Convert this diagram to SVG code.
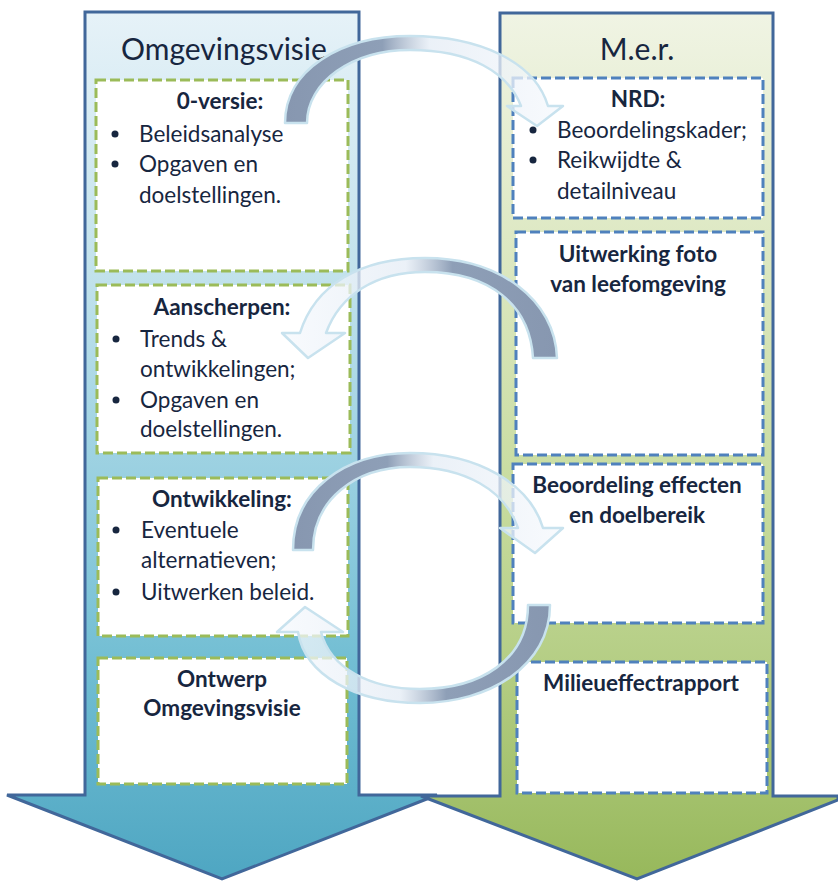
<svg xmlns="http://www.w3.org/2000/svg" width="838" height="881" viewBox="0 0 838 881">
<defs>
<linearGradient id="gBlue" x1="0" y1="12" x2="0" y2="880" gradientUnits="userSpaceOnUse">
<stop offset="0" stop-color="#e6f2f8"/>
<stop offset="0.3" stop-color="#c2e2ec"/>
<stop offset="0.55" stop-color="#97cfe0"/>
<stop offset="0.75" stop-color="#72bed3"/>
<stop offset="1" stop-color="#4ea6c2"/>
</linearGradient>
<linearGradient id="gGreen" x1="0" y1="12" x2="0" y2="880" gradientUnits="userSpaceOnUse">
<stop offset="0" stop-color="#f0f4e4"/>
<stop offset="0.3" stop-color="#dbe7bf"/>
<stop offset="0.55" stop-color="#c8dca0"/>
<stop offset="0.75" stop-color="#b5ce85"/>
<stop offset="1" stop-color="#97b85b"/>
</linearGradient>
<linearGradient id="gArrR" x1="0" y1="0" x2="1" y2="0">
<stop offset="0" stop-color="#8797b0"/>
<stop offset="0.35" stop-color="#8e9fb7"/>
<stop offset="0.52" stop-color="#e4ecf5" stop-opacity="0.75"/>
<stop offset="1" stop-color="#f6f9fd" stop-opacity="0.75"/>
</linearGradient>
<linearGradient id="gArrL" x1="1" y1="0" x2="0" y2="0">
<stop offset="0" stop-color="#8797b0"/>
<stop offset="0.38" stop-color="#8e9fb7"/>
<stop offset="0.55" stop-color="#e4ecf5" stop-opacity="0.75"/>
<stop offset="1" stop-color="#f6f9fd" stop-opacity="0.75"/>
</linearGradient>
<style>
.big{stroke:#41679a;stroke-width:3;stroke-linejoin:miter}
.bg{fill:#ffffff;stroke:#9bbb59;stroke-width:3;stroke-dasharray:10 4}
.bb{fill:#ffffff;stroke:#4f81bd;stroke-width:3;stroke-dasharray:10 4}
.title{font-family:Lato,"Liberation Sans",sans-serif;font-size:30px;fill:#17263f;text-anchor:middle}
.h{font-family:Lato,"Liberation Sans",sans-serif;font-size:22.5px;font-weight:bold;fill:#17263f;text-anchor:middle}
.t{font-family:Lato,"Liberation Sans",sans-serif;font-size:22.5px;fill:#17263f}
.dot{fill:#17263f}
.ca{stroke:#c8e2ee;stroke-width:2.5;stroke-linejoin:round}
</style>
</defs>

<g id="arrow-omgevingsvisie">
<path class="big" fill="url(#gBlue)" d="M85,12 L359,12 L359,795 L437,795 L222,879 L7,795 L85,795 Z"/>
<text class="title" x="224" y="60">Omgevingsvisie</text>
</g>
<g id="arrow-mer">
<path class="big" fill="url(#gGreen)" d="M500,13 L773,13 L773,796 L838,796 L838,800 L637,879 L421,796 L500,796 Z"/>
<text class="title" x="637" y="60">M.e.r.</text>
</g>

<g id="box-0-versie">
<rect class="bg" x="96" y="80" width="252" height="191"/>
<text class="h" x="220" y="109">0-versie:</text>
<circle class="dot" cx="115" cy="134" r="3.5"/>
<text class="t" x="139" y="142">Beleidsanalyse</text>
<circle class="dot" cx="115" cy="164" r="3.5"/>
<text class="t" x="139" y="172">Opgaven en</text>
<text class="t" x="139" y="203">doelstellingen.</text>
</g>
<g id="box-aanscherpen">
<rect class="bg" x="97" y="285" width="253" height="168"/>
<text class="h" x="222" y="315">Aanscherpen:</text>
<circle class="dot" cx="116" cy="339" r="3.5"/>
<text class="t" x="140" y="347">Trends &amp;</text>
<text class="t" x="140" y="377">ontwikkelingen;</text>
<circle class="dot" cx="116" cy="400" r="3.5"/>
<text class="t" x="140" y="408">Opgaven en</text>
<text class="t" x="140" y="437">doelstellingen.</text>
</g>
<g id="box-ontwikkeling">
<rect class="bg" x="98" y="478" width="250" height="158"/>
<text class="h" x="222" y="507">Ontwikkeling:</text>
<circle class="dot" cx="116" cy="530" r="3.5"/>
<text class="t" x="141" y="538">Eventuele</text>
<text class="t" x="141" y="568">alternatieven;</text>
<circle class="dot" cx="116" cy="592" r="3.5"/>
<text class="t" x="141" y="600">Uitwerken beleid.</text>
</g>
<g id="box-ontwerp">
<rect class="bg" x="98" y="658" width="249" height="126"/>
<text class="h" x="222" y="687">Ontwerp</text>
<text class="h" x="222" y="716">Omgevingsvisie</text>
</g>

<g id="box-nrd">
<rect class="bb" x="513" y="78" width="250" height="140"/>
<text class="h" x="638" y="107">NRD:</text>
<circle class="dot" cx="533" cy="130" r="3.5"/>
<text class="t" x="557" y="138">Beoordelingskader;</text>
<circle class="dot" cx="533" cy="160" r="3.5"/>
<text class="t" x="557" y="168">Reikwijdte &amp;</text>
<text class="t" x="557" y="199">detailniveau</text>
</g>
<g id="box-foto">
<rect class="bb" x="516" y="232" width="247" height="223"/>
<text class="h" x="638" y="262">Uitwerking foto</text>
<text class="h" x="638" y="292">van leefomgeving</text>
</g>
<g id="box-beoordeling">
<rect class="bb" x="513" y="464" width="250" height="159"/>
<text class="h" x="637" y="493">Beoordeling effecten</text>
<text class="h" x="637" y="523">en doelbereik</text>
</g>
<g id="box-mer">
<rect class="bb" x="517" y="662" width="250" height="131"/>
<text class="h" x="641" y="691">Milieueffectrapport</text>
</g>

<g id="connectors">
<path class="ca" fill="url(#gArrR)" d="M285,123 C285,70 340,36 410,36 C480,36 535,62 548,106 L563,106 L537,126 L507,106 L521,106 C508,72 470,50 410,50 C352,50 307,82 307,123 Z"/>
<path class="ca" fill="url(#gArrL)" d="M557,358 C555,300 500,258 425,258 C360,258 315,285 300,333 L282,333 L308,358 L345,333 L326,333 C340,295 375,272 425,272 C490,272 530,305 533,358 Z"/>
<path class="ca" fill="url(#gArrR)" d="M293,550 C293,490 345,453 410,453 C480,453 530,485 543,528 L563,528 L535,553 L500,528 L518,528 C505,490 465,467 410,467 C355,467 313,500 313,550 Z"/>
<path class="ca" fill="url(#gArrL)" d="M550,605 C550,665 490,703 420,703 C355,703 305,675 298,632 L277,632 L305,607 L343,632 L321,632 C330,668 370,689 420,689 C480,689 528,660 528,605 Z"/>
</g>
</svg>
